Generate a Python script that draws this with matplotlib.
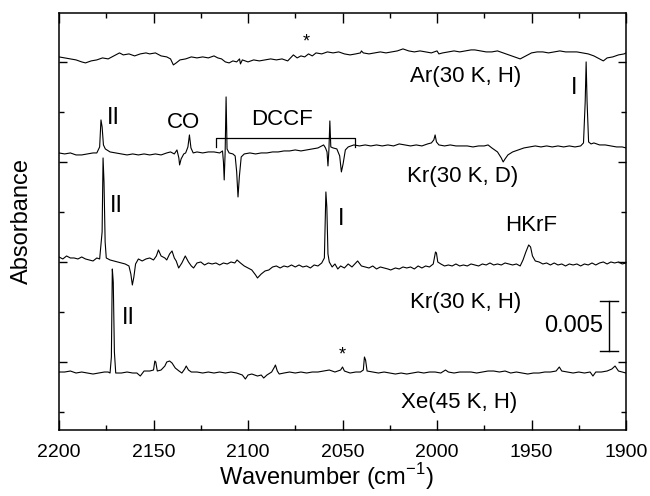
import matplotlib
matplotlib.use("Agg")
import matplotlib.pyplot as plt
from matplotlib.ticker import MultipleLocator

plt.rcParams['font.family'] = ['Liberation Sans', 'DejaVu Sans']
plt.rcParams['mathtext.fontset'] = 'custom'
plt.rcParams['mathtext.rm'] = 'Liberation Sans'

# absorbance in units of 1e-3, traces already stacked as in the figure
ar_wn = [2200, 2197, 2194, 2191, 2188, 2186, 2183, 2180, 2177, 2174, 2171, 2168, 2166, 2163, 2160,
         2157, 2154, 2152, 2149, 2146, 2143, 2141, 2139.5, 2138, 2136, 2133, 2130, 2127, 2124, 2121,
         2118, 2116, 2114, 2112, 2110, 2108, 2106, 2104.5, 2104, 2103, 2100, 2097, 2094, 2091, 2088,
         2085, 2082, 2079, 2077, 2076, 2074, 2072, 2070, 2068, 2066, 2064, 2061, 2058, 2055, 2052,
         2049, 2046, 2043, 2040.5, 2040, 2039, 2036, 2033, 2030, 2027, 2024, 2021, 2018, 2015, 2012,
         2009, 2006, 2003, 2000, 1999, 1997, 1994, 1991, 1988, 1985, 1982, 1980, 1977, 1974, 1971,
         1968, 1965, 1962, 1959, 1956, 1953, 1950, 1947, 1944, 1941, 1938, 1935, 1932, 1929, 1926,
         1923, 1920, 1917, 1914, 1912, 1910, 1907, 1904, 1901, 1900]
ar_abs = [30.5, 30.4, 30.3, 30.2, 30.0, 29.9, 30.1, 30.2, 30.4, 30.3, 30.6, 30.9, 30.7, 30.8, 30.6,
          30.8, 30.9, 30.8, 30.9, 30.6, 30.5, 30.3, 29.7, 29.9, 30.2, 30.3, 30.5, 30.4, 30.5, 30.4,
          30.6, 30.4, 30.3, 30.0, 29.9, 30.1, 30.0, 30.3, 29.8, 30.2, 30.0, 30.2, 30.1, 30.2, 30.3,
          30.2, 30.3, 30.1, 30.5, 30.7, 30.4, 30.6, 30.5, 30.8, 30.6, 30.9, 30.8, 31.0, 30.9, 31.0,
          30.8, 30.7, 30.8, 30.9, 31.1, 30.9, 30.8, 30.9, 31.0, 30.9, 31.0, 31.1, 31.3, 31.1, 31.0,
          31.1, 31.0, 30.9, 31.1, 30.8, 30.9, 31.0, 31.1, 31.0, 31.1, 31.2, 31.2, 31.1, 31.0, 31.0,
          31.1, 30.9, 30.7, 30.5, 30.3, 30.6, 30.9, 31.0, 31.0, 30.9, 31.0, 31.1, 31.0, 31.0, 31.0,
          30.9, 30.8, 30.6, 30.3, 30.1, 30.4, 30.5, 30.7, 30.8, 30.9]

krd_wn = [2200, 2197, 2194, 2191, 2188, 2185, 2182, 2180, 2178.5, 2177.8, 2177.2, 2176.5, 2175.5, 2173,
          2170, 2167, 2164, 2161, 2158, 2155, 2152, 2149, 2146, 2143, 2141, 2139, 2137.6, 2136.6,
          2136.2, 2135.4, 2134, 2133, 2131.8, 2131, 2130.2, 2129, 2127, 2124, 2121, 2118, 2115,
          2113.5, 2113, 2112.6, 2112.1, 2111.6, 2111.1, 2110, 2108, 2106.8, 2106, 2105.3, 2104.6,
          2103.6, 2102, 2099, 2096, 2093, 2090, 2087, 2084, 2081, 2078, 2075, 2072, 2069, 2066, 2063,
          2061, 2060, 2059, 2058.2, 2057.7, 2057.2, 2056.7, 2056.2, 2055, 2053, 2051.5, 2050.6,
          2049.7, 2048.5, 2047, 2044, 2041, 2038, 2035, 2032, 2029, 2026, 2023, 2020, 2017, 2014,
          2011, 2008, 2005, 2003, 2001.7, 2001, 2000.3, 1999, 1996, 1993, 1990, 1987, 1984, 1981,
          1978, 1975, 1973, 1971, 1968, 1966, 1965, 1964, 1962.5, 1960, 1957, 1954, 1951, 1948, 1945,
          1942, 1939, 1936, 1933, 1930, 1927, 1924, 1922.5, 1921.6, 1921.1, 1920.6, 1919.8, 1918.5,
          1917, 1914, 1911, 1908, 1905, 1902, 1900]
krd_abs = [20.9, 20.8, 20.9, 20.7, 20.7, 20.8, 20.9, 20.9, 21.5, 24.2, 23.5, 21.7, 21.3, 21.0,
           20.9, 20.8, 20.7, 20.8, 20.7, 20.8, 20.7, 20.8, 20.7, 20.9, 21.0, 20.8, 21.2, 20.4,
           19.7, 20.3, 20.8, 20.9, 21.5, 22.7, 21.4, 20.9, 21.0, 20.9, 21.0, 21.0, 20.9,
           21.1, 20.0, 18.2, 21.0, 26.5, 21.3, 20.9, 20.8, 20.6, 19.0, 16.5, 18.5,
           20.5, 20.8, 20.9, 20.8, 20.9, 20.9, 21.0, 21.0, 21.1, 21.1, 21.2, 21.1, 21.2, 21.3, 21.4,
           21.6, 21.7, 21.4, 21.0, 19.6, 21.2, 24.1, 21.5, 21.4, 21.3, 20.6, 19.0,
           19.8, 21.2, 21.5, 21.7, 21.6, 21.7, 21.6, 21.7, 21.6, 21.7, 21.6, 21.8, 21.7, 21.6,
           21.7, 21.6, 21.8, 21.9, 22.2, 22.7, 22.0, 21.7, 21.6, 21.7, 21.6, 21.6, 21.6, 21.5,
           21.6, 21.6, 21.7, 21.4, 21.0, 20.4, 20.0, 20.3, 20.7, 21.0, 21.2, 21.4, 21.5, 21.6, 21.5,
           21.6, 21.5, 21.6, 21.5, 21.6, 21.5, 21.6, 21.9, 26.0, 30.0, 26.0, 22.0, 21.8,
           21.9, 21.7, 21.7, 21.6, 21.5, 21.5, 21.4]

krh_wn = [2200, 2198, 2196, 2194, 2192, 2190, 2188, 2186, 2184, 2182, 2180, 2178.5, 2177.2, 2176.7,
          2176.2, 2175.6, 2175, 2173, 2171, 2169, 2167, 2165, 2163, 2162, 2161.2, 2160.4, 2159.5,
          2158, 2156, 2154, 2152, 2150, 2148.5, 2147.4, 2146, 2144, 2143, 2141.5, 2140.2, 2139, 2138,
          2136.7, 2135, 2133.2, 2131.5, 2130, 2128.8, 2127, 2125, 2123, 2121, 2119, 2117, 2115, 2113,
          2111, 2109, 2107, 2105.8, 2104, 2102, 2100, 2098, 2096, 2095, 2093, 2091, 2089, 2087, 2085,
          2083, 2081, 2079, 2077, 2075, 2073, 2071, 2069, 2067, 2065, 2063, 2061, 2059.6, 2058.8,
          2058.3, 2057.7, 2057, 2055.5, 2054, 2052.5, 2051, 2049, 2047, 2045, 2043, 2042, 2040, 2038,
          2036, 2034, 2032, 2030, 2028, 2026, 2024.5, 2022, 2020, 2018, 2016, 2014, 2012, 2010, 2008,
          2006, 2004, 2002, 2000.8, 2000.3, 1999.6, 1998, 1996, 1994, 1992, 1990, 1988, 1986, 1984,
          1982, 1980, 1978, 1976, 1974, 1972, 1970, 1968, 1966, 1964, 1962, 1960, 1958, 1956, 1954.5,
          1953, 1951.5, 1950.5, 1949.5, 1948, 1946, 1944, 1942, 1940, 1938, 1936, 1934, 1932, 1930,
          1928, 1926, 1924, 1922, 1920, 1918, 1916, 1914, 1912, 1910, 1908, 1906, 1904, 1902, 1900]
krh_abs = [10.5, 10.3, 10.6, 10.4, 10.4, 10.3, 10.5, 10.3, 10.2, 10.1, 10.4, 10.3, 13.0, 20.4,
           18.0, 12.0, 10.4, 10.2, 10.1, 10.0, 9.9, 9.8, 9.6, 8.8, 7.7, 8.5, 9.8,
           10.3, 10.1, 10.3, 10.4, 10.2, 10.6, 11.2, 10.6, 10.4, 10.2, 10.8, 11.1, 10.4, 10.1,
           9.4, 9.9, 10.6, 10.0, 9.6, 9.4, 9.9, 10.0, 9.7, 9.9, 9.8, 9.9, 9.7, 9.9,
           9.8, 10.0, 9.9, 10.2, 9.9, 9.6, 9.4, 9.2, 8.7, 8.4, 8.8, 9.1, 9.2, 9.5, 9.6,
           9.4, 9.6, 9.5, 9.7, 9.5, 9.7, 9.5, 9.6, 9.4, 9.7, 9.6, 9.9, 10.4, 17.0,
           15.5, 10.8, 10.0, 9.5, 9.8, 9.3, 9.6, 9.4, 9.8, 9.5, 9.9, 10.1, 9.6, 9.5,
           9.4, 9.6, 9.3, 9.5, 9.4, 9.3, 9.2, 9.4, 9.3, 9.5, 9.4, 9.5, 9.3, 9.6, 9.4,
           9.6, 9.5, 9.8, 11.0, 10.9, 10.0, 9.8, 9.6, 9.7, 9.6, 9.8, 9.6, 9.7, 9.6,
           9.8, 9.7, 9.6, 9.8, 9.7, 9.9, 9.7, 9.8, 9.7, 9.9, 9.8, 9.7, 9.8, 9.6, 10.2,
           11.0, 11.7, 11.5, 10.6, 10.1, 10.0, 9.8, 9.9, 9.7, 9.9, 9.7, 9.8, 9.6, 9.8,
           9.7, 9.8, 9.6, 9.8, 9.7, 9.9, 9.7, 9.9, 10.0, 9.8, 10.0, 9.9, 10.0, 9.8, 9.9]

xe_wn = [2200, 2197, 2194, 2191, 2188, 2185, 2182, 2179, 2176, 2174, 2173, 2172.3, 2171.8, 2171.3,
         2170.7, 2170, 2167, 2164, 2161, 2158.8, 2157, 2155, 2152, 2150, 2149.3, 2148.8, 2148, 2146,
         2144, 2143, 2141.5, 2140.2, 2138.5, 2136.5, 2135, 2133.5, 2132.7, 2131.5, 2130, 2127, 2124,
         2121, 2118, 2115, 2112, 2109, 2106, 2103, 2101.4, 2100, 2098, 2095, 2093, 2091.7, 2090,
         2087.5, 2086, 2085.5, 2084.5, 2083.5, 2081, 2078, 2075, 2072, 2069, 2066, 2063, 2060, 2057,
         2054, 2051, 2050, 2049, 2046, 2043, 2040.5, 2039, 2038.4, 2037.8, 2037, 2034, 2031, 2028,
         2025, 2022, 2019, 2016, 2013, 2010, 2007, 2004, 2001, 1998, 1995.5, 1994, 1991, 1988, 1985,
         1982, 1979, 1976, 1973, 1970, 1967, 1964, 1961, 1958, 1955, 1952, 1949, 1946, 1943, 1940,
         1937, 1935.3, 1934, 1931, 1928, 1925, 1922, 1919, 1917.5, 1916, 1913, 1910, 1907.5, 1905.8,
         1904, 1902, 1900]
xe_abs = [-1.0, -1.0, -0.9, -1.1, -1.0, -1.1, -1.2, -1.1, -1.0, -1.0, -1.1, 0.5, 9.3, 8.0,
          1.0, -1.1, -1.1, -1.0, -1.1, -1.1, -1.4, -0.9, -0.9, -0.8, 0.1, 0.0, -0.9, -0.8,
          -0.4, 0.0, 0.1, -0.1, -0.6, -0.9, -1.1, -0.7, -0.4, -0.8, -1.0, -1.0, -1.1,
          -1.0, -1.1, -1.0, -1.1, -1.0, -1.1, -1.3, -1.7, -1.3, -1.2, -1.4, -1.3, -1.6, -1.3,
          -1.0, -0.5, -0.3, -0.9, -1.2, -1.1, -1.0, -1.1, -1.0, -1.1, -1.0, -1.0, -0.9, -0.8,
          -1.0, -0.8, -0.5, -0.9, -1.1, -1.0, -1.0, -0.8, 0.5, 0.2, -0.9, -1.0, -1.1, -1.0,
          -1.1, -1.2, -1.1, -1.2, -1.1, -1.0, -1.1, -1.0, -1.0, -1.1, -0.8, -1.0, -1.1, -1.0, -1.0,
          -1.0, -1.1, -1.0, -0.9, -0.9, -1.0, -0.9, -1.1, -1.0, -1.1, -1.2, -1.1, -1.1, -1.0, -1.0,
          -0.9, -0.5, -0.9, -1.0, -1.1, -1.0, -1.1, -1.0, -1.4, -1.0, -1.0, -0.9, -0.7, -0.4,
          -0.9, -1.0, -1.1]

# annotation texts: (label, wavenumber, absorbance level, size)
labels = [
    ("*", 2069.2, 32.0, 13), ("Ar(30 K, H)", 1984.7, 28.5, 16),
    ("II", 2171.0, 24.4, 17), ("CO", 2134.4, 23.9, 16), ("DCCF", 2082.0, 24.2, 16),
    ("I", 1927.5, 27.4, 17), ("Kr(30 K, D)", 1986.5, 18.5, 16),
    ("II", 2169.4, 15.6, 17), ("I", 2050.6, 14.3, 17), ("HKrF", 1950.0, 13.6, 16),
    ("Kr(30 K, H)", 1984.7, 5.9, 16),
    ("II", 2163.4, 4.4, 17), ("*", 2050.1, 0.7, 13), ("Xe(45 K, H)", 1988.3, -4.0, 16),
]
dccf_span = (2117.0, 2043.5)
dccf_level = (22.4, 21.5)
scale_x = 1909.0
scale_span = (1.1, 6.1)  # 0.005 absorbance

fig = plt.figure(figsize=(6.5, 4.96), dpi=100)
ax = fig.add_axes([0.0908, 0.133, 0.8723, 0.841])

for wn, ab in [(ar_wn, ar_abs), (krd_wn, krd_abs), (krh_wn, krh_abs), (xe_wn, xe_abs)]:
    ax.plot(wn, ab, color='black', lw=0.8)

for txt, x, y, fs in labels:
    ax.text(x, y, txt, ha='center', va='center', fontsize=fs)

# DCCF bracket
ax.plot([dccf_span[0], dccf_span[0], dccf_span[1], dccf_span[1]],
        [dccf_level[1], dccf_level[0], dccf_level[0], dccf_level[1]], color='black', lw=0.9)

# scale bar
ax.plot([scale_x, scale_x], scale_span, color='black', lw=1.0)
for yy in scale_span:
    ax.plot([scale_x + 5, scale_x - 5], [yy, yy], color='black', lw=1.0)
ax.text(scale_x + 3, sum(scale_span) / 2, "0.005", ha='right', va='center', fontsize=17)

ax.set_xlim(2200, 1900)
ax.set_ylim(-6.8, 34.9)
ax.xaxis.set_major_locator(MultipleLocator(50))
ax.xaxis.set_minor_locator(MultipleLocator(25))
ax.yaxis.set_major_locator(MultipleLocator(10))
ax.yaxis.set_minor_locator(MultipleLocator(5))
ax.tick_params(which='both', direction='in', top=True, right=True, labelleft=False, width=1.0)
ax.tick_params(axis='x', which='major', length=7, labelsize=14, pad=10)
ax.tick_params(axis='x', which='minor', length=3.5)
ax.tick_params(axis='y', which='major', length=6)
ax.tick_params(axis='y', which='minor', length=3.5)
for s in ax.spines.values():
    s.set_linewidth(1.1)

ax.set_xlabel(r"Wavenumber (cm$^{-1}$)", fontsize=17)
ax.xaxis.set_label_coords(0.471, -0.075)
ax.set_ylabel("Absorbance", fontsize=17)
ax.yaxis.set_label_coords(-0.046, 0.5)

fig.savefig("out.png", dpi=100)
